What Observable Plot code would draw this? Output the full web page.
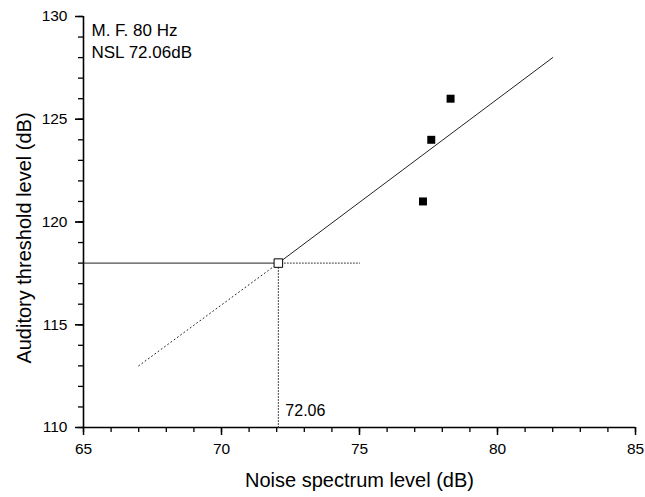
<!DOCTYPE html>
<html>
<head>
<meta charset="utf-8">
<script src="https://cdn.jsdelivr.net/npm/d3@7"></script>
<script src="https://cdn.jsdelivr.net/npm/@observablehq/plot@0.6"></script>
<style>
  html, body { margin: 0; padding: 0; background: #fff; }
  svg { display: block; }
</style>
</head>
<body>
<div id="chart"></div>
<script>
// Measured points
const noiseLevel = [77.3, 77.6, 78.3];
const thresholdLevel = [121, 124, 126];

// Critical point (NSL)
const nslX = [72.06];
const nslY = [118];

// Fitted line (solid) and its extrapolation (dotted)
const fitX = [72.06, 82];
const fitY = [118, 128];
const extX = [67, 72.06];
const extY = [113, 118];

// Reference guides
const baseX = [65, 72.06];
const guideX = [72.06, 75];
const guideVY = [110, 118];

// Axis ticks
const xMajor = [65, 70, 75, 80, 85];
const xMinor = d3.range(65, 86, 1);
const yMajor = [110, 115, 120, 125, 130];
const yMinor = d3.range(110, 131, 1);

// Texts
const annotation = ["M. F. 80 Hz\nNSL 72.06dB"];
const nslLabel = ["72.06"];
const xTitle = ["Noise spectrum level (dB)"];
const yTitle = ["Auditory threshold level (dB)"];

// Layout
const W = 645, H = 497, mL = 83, mR = 10, mT = 16, mB = 70;
const frameW = W - mL - mR, frameH = H - mT - mB;
const xRange = [65, 85], yRange = [110, 130];
const xMin = xRange[0], yMin = yRange[0];

const pts = noiseLevel.map((x, i) => ({x, y: thresholdLevel[i]}));
const line = (xs, ys) => xs.map((x, i) => ({x, y: ys[i]}));

const chart = Plot.plot({
  width: W,
  height: H,
  marginLeft: mL,
  marginRight: mR,
  marginTop: mT,
  marginBottom: mB,
  style: {fontFamily: "'Liberation Sans', Arial, sans-serif", background: "#fff", overflow: "visible", color: "black"},
  x: {domain: xRange, ticks: xMajor, tickSize: 8, tickPadding: 7, label: null},
  y: {domain: yRange, ticks: yMajor, tickSize: 8, tickPadding: 8, label: null},
  marks: [
    // outward tick marks, as frame-spanning ticks inset to the margin
    Plot.tickX(xMinor, {x: d => d, insetTop: frameH, insetBottom: -5, stroke: "black", strokeWidth: 1.3}),
    Plot.tickX(xMajor, {x: d => d, insetTop: frameH, insetBottom: -8, stroke: "black", strokeWidth: 1.5}),
    Plot.tickY(yMinor, {y: d => d, insetRight: frameW, insetLeft: -5, stroke: "black", strokeWidth: 1.3}),
    Plot.tickY(yMajor, {y: d => d, insetRight: frameW, insetLeft: -8, stroke: "black", strokeWidth: 1.5}),
    // axis lines
    Plot.ruleX([xMin], {stroke: "black", strokeWidth: 1.6}),
    Plot.ruleY([yMin], {stroke: "black", strokeWidth: 1.6}),
    // guides
    Plot.line(line(baseX, [nslY[0], nslY[0]]), {x: "x", y: "y", stroke: "#222", strokeWidth: 1}),
    Plot.line(line(guideX, [nslY[0], nslY[0]]), {x: "x", y: "y", stroke: "#333", strokeWidth: 1, strokeDasharray: "1,2"}),
    Plot.line(line([nslX[0], nslX[0]], guideVY), {x: "x", y: "y", stroke: "#333", strokeWidth: 1, strokeDasharray: "1,2"}),
    // extrapolation + fit
    Plot.line(line(extX, extY), {x: "x", y: "y", stroke: "#222", strokeWidth: 1, strokeDasharray: "1,3"}),
    Plot.line(line(fitX, fitY), {x: "x", y: "y", stroke: "#222", strokeWidth: 1}),
    // critical point
    Plot.dot(line(nslX, nslY), {x: "x", y: "y", symbol: "square", r: 4.8, stroke: "black", fill: "white", strokeWidth: 1}),
    // measured data
    Plot.dot(pts, {x: "x", y: "y", symbol: "square", r: 4.5, fill: "black", stroke: "none"}),
    // annotations
    Plot.text(annotation.map(t => ({t, x: xMin, y: yRange[1]})), {x: "x", y: "y", text: "t", dx: 8, dy: 4, lineAnchor: "top", textAnchor: "start", fontSize: 17, lineHeight: 1.3, fill: "black"}),
    Plot.text(nslLabel.map(t => ({t, x: nslX[0], y: yMin})), {x: "x", y: "y", text: "t", dx: 7, dy: -17, textAnchor: "start", fontSize: 16, fill: "black"}),
    Plot.text(xTitle.map(t => ({t, x: (xRange[0] + xRange[1]) / 2, y: yMin})), {x: "x", y: "y", text: "t", dy: 53, fontSize: 20, fill: "black"}),
    Plot.text(yTitle.map(t => ({t, x: xMin, y: (yRange[0] + yRange[1]) / 2})), {x: "x", y: "y", text: "t", textAnchor: "middle", dx: -59, dy: 16, rotate: -90, fontSize: 20, fill: "black"})
  ]
});
chart.querySelectorAll("[aria-label^='x-axis'] text, [aria-label^='y-axis'] text").forEach(t => t.setAttribute("font-size", "15.5"));
document.getElementById("chart").appendChild(chart);
</script>
</body>
</html>
